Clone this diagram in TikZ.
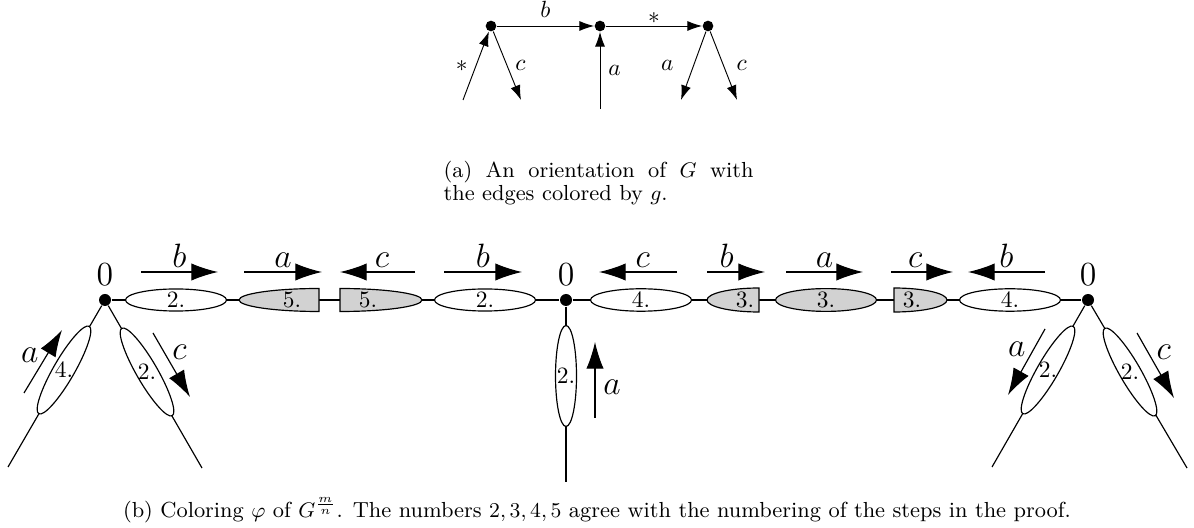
\documentclass[tikz,border=0pt]{standalone}
\usepackage{amssymb}
\usepackage{tikz}
\usetikzlibrary{arrows.meta,calc,shapes.geometric}
\tikzset{dot/.style={circle,fill,inner sep=0pt,minimum size=.18cm},sdot/.style={dot,minimum size=.16cm},
oval/.style={draw,ellipse,fill=white,inner sep=0pt,minimum width=1.515cm,minimum height=.315cm},grey/.style={fill=gray!35},
arr/.style={-{Latex[length=.4cm,width=.26cm]}},sarr/.style={-{Latex[length=.22cm,width=.15cm]}},
lab/.style={font=\fontsize{15}{18}\selectfont},captext/.style={font=\fontsize{9.3}{9.6}\selectfont,inner sep=0pt}}
\begin{document}
\begin{tikzpicture}[x=.015cm,y=-.015cm,line width=.5pt]
\useasboundingbox(0,0)rectangle(1194,528);
% (a) orientation
\node[sdot](A)at(491,26){};\node[sdot](B)at(600,26){};\node[sdot](C)at(708,26){};
\coordinate(A1)at(463,100);\coordinate(A2)at(521,100);\coordinate(B1)at(600,109);\coordinate(C1)at(681,100);\coordinate(C2)at(737,100);
\begin{scope}[line width=.4pt]
\draw[sarr](A)--node[above]{$b$}(B);\draw[sarr](B)--node[above,inner sep=1pt]{$*$}(C);
\draw[sarr](A1)--node[left]{$*$}(A);\draw[sarr](A)--node[right]{$c$}(A2);\draw[sarr](B1)--node[right]{$a$}(B);
\draw[sarr](C)--node[left=5pt]{$a$}(C1);\draw[sarr](C)--node[right=2pt]{$c$}(C2);
\end{scope}
\node[captext,anchor=north west,align=left](capa)at(443,161){\makebox[4.65cm][s]{(a) An orientation of $G$ with}\\the edges colored by $g$.};
% (b) coloring
\node[dot,label={[lab]above:$0$}](L)at(105,300){};\node[dot,label={[lab]above:$0$}](M)at(566,300){};\node[dot,label={[lab]above:$0$}](R)at(1088,300){};
\coordinate(Ll)at(8,467);\coordinate(Lr)at(202,468);\coordinate(Md)at(566,482);\coordinate(Rl)at(992,467);\coordinate(Rr)at(1187,468);
\draw(L)--(M)--(R);\draw(L)--(Ll);\draw(L)--(Lr);\draw(M)--(Md);\draw(R)--(Rl);\draw(R)--(Rr);
\node[oval](e1)at(176,300){2.};
\draw[grey](319,288.5)arc[start angle=90,end angle=270,x radius=1.2cm,y radius=.1725cm]--cycle;\node(g1)at(292,300){5.};
\draw[grey](340,311.5)arc[start angle=-90,end angle=90,x radius=1.23cm,y radius=.1725cm]--cycle;\node(g2)at(368,300){5.};
\node[oval](e2)at(485,300){2.};\node[oval](e3)at(641,300){4.};
\draw[grey](759,288)arc[start angle=90,end angle=270,x radius=.78cm,y radius=.18cm]--cycle;\node(g3)at(745,300){3.};
\node[oval,grey](g4)at(826,300){3.};
\draw[grey](894,312)arc[start angle=-90,end angle=90,x radius=.795cm,y radius=.18cm]--cycle;\node(g5)at(912,300){3.};
\node[oval](e4)at(1010,300){4.};
\draw[arr]($(e1)+(-35,-28)$)--node[lab,above,inner sep=1.5pt]{$b$}($(e1)+(42,-28)$);
\draw[arr]($(g1)+(-48,-28)$)--node[lab,above,inner sep=1.5pt]{$a$}($(g1)+(30,-28)$);
\draw[arr]($(g2)+(47,-28)$)--node[lab,above,inner sep=1.5pt,pos=.44]{$c$}($(g2)+(-28,-28)$);
\draw[arr]($(e2)+(-41,-28)$)--node[lab,above,inner sep=1.5pt]{$b$}($(e2)+(37,-28)$);
\draw[arr]($(e3)+(36,-28)$)--node[lab,above,inner sep=1.5pt,pos=.44]{$c$}($(e3)+(-42,-28)$);
\draw[arr]($(g3)+(-38,-28)$)--node[lab,above,inner sep=1.5pt,pos=.34]{$b$}($(g3)+(20,-28)$);
\draw[arr]($(g4)+(-40,-28)$)--node[lab,above,inner sep=1.5pt]{$a$}($(g4)+(37,-28)$);
\draw[arr]($(g5)+(-21,-28)$)--node[lab,above,inner sep=1.5pt,pos=.39]{$c$}($(g5)+(41,-28)$);
\draw[arr]($(e4)+(35,-28)$)--node[lab,above,inner sep=1.5pt]{$b$}($(e4)+(-42,-28)$);
% branches
\node[oval,rotate=90](v1)at(566,376){};\node(v1t)at(v1){2.};
\draw[arr]($(v1)+(29,42)$)--node[lab,right,pos=.4]{$a$}($(v1)+(29,-34)$);
\node[oval,rotate=60](d1)at(64,370){};\node(d1t)at(d1){4.};
\draw[arr]($(d1)+(-40,23)$)--node[lab,left,pos=.6]{$a$}($(d1)+(-2,-40)$);
\node[oval,rotate=-60](d2)at(147,372){};\node(d2t)at(d2){2.};
\draw[arr]($(d2)+(6,-39)$)--node[lab,right,pos=.3]{$c$}($(d2)+(43,25)$);
\node[oval,rotate=60](d3)at(1048,370){};\node(d3t)at(d3){2.};
\draw[arr]($(d3)+(-3,-41)$)--node[lab,left,pos=.3]{$a$}($(d3)+(-40,25)$);
\node[oval,rotate=-60](d4)at(1130,372){};\node(d4t)at(d4){2.};
\draw[arr]($(d4)+(7,-39)$)--node[lab,right,pos=.3]{$c$}($(d4)+(44,26)$);
\node[captext](capb)at(597,510){(b) Coloring $\varphi$ of $G^{\frac{m}{n}}$. The numbers $2,3,4,5$ agree with the numbering of the steps in the proof.};
\end{tikzpicture}
\end{document}
